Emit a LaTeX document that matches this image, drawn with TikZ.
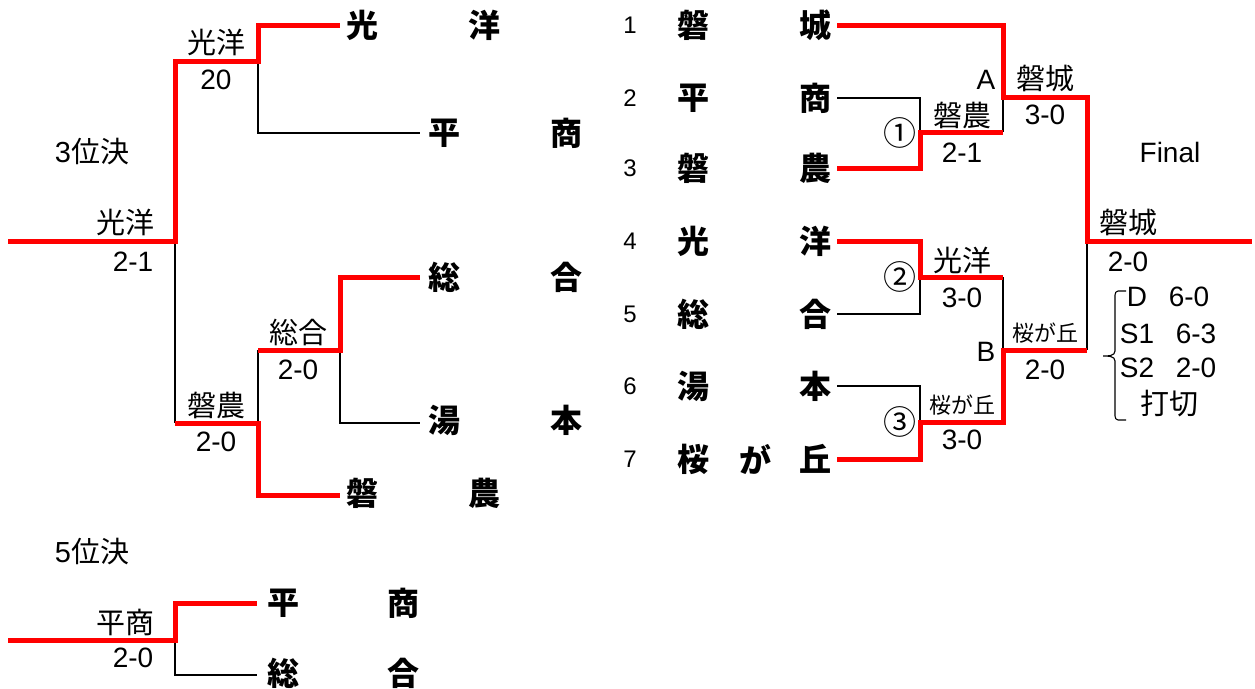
\documentclass[tikz,border=0pt]{standalone}
\usepackage{fontspec}
\setmainfont{Noto Sans CJK JP}
\newfontfamily\lat{Liberation Sans}
\begin{document}
\begin{tikzpicture}[x=1pt,y=-1pt,
  win/.style={draw=red,line width=5pt},
  lose/.style={draw=black,line width=1.1pt},
  nm/.style={inner sep=0pt,font=\fontsize{32}{32}\selectfont\bfseries},
  num/.style={inner sep=0pt,font=\fontsize{24}{24}\selectfont\lat},
  lbl/.style={inner sep=0pt,font=\fontsize{29}{29}\selectfont},
  sc/.style={inner sep=0pt,font=\fontsize{28}{28}\selectfont\lat},
  sml/.style={inner sep=0pt,font=\fontsize{22}{22}\selectfont},
  circ/.style={inner sep=0pt,font=\fontsize{33}{33}\selectfont}]
\useasboundingbox (0,0) rectangle (1255,688);

% ---------- main bracket: teams ----------
\foreach \n/\a/\b/\y in {1/磐/城/25,2/平/商/98,3/磐/農/168,4/光/洋/241,5/総/合/314,6/湯/本/386,7/桜/丘/459}{
  \node[num] (n\n) at (630,\y) {\n};
  \node[nm] (a\n) at (693,\y) {\a};
  \node[nm] (b\n) at (815,\y) {\b};
  \coordinate (t\n) at (837,\y);
}
\node[nm] (ga) at (755,459) {が};

% joints
\coordinate (j1a) at (1003,25);
\coordinate (jA) at (1003,97);
\coordinate (jA2) at (1087,97);
\coordinate (jF) at (1087,241);
\coordinate (fin) at (1252,241);
\coordinate (j2) at (920,98);
\coordinate (j3) at (920,168);
\coordinate (m1) at (920,132);
\coordinate (m1e) at (1003,132);
\coordinate (j4) at (920,241);
\coordinate (j5) at (920,314);
\coordinate (m2) at (920,277);
\coordinate (m2e) at (1003,277);
\coordinate (j6) at (920,386);
\coordinate (j7) at (920,459);
\coordinate (m3) at (920,422);
\coordinate (m3e) at (1003,422);
\coordinate (jB) at (1003,350);
\coordinate (jB2) at (1087,350);

\draw[lose] (t2) -- (j2) -- (m1);
\draw[lose] (m1e) -- (jA);
\draw[lose] (t5) -- (j5) -- (m2);
\draw[lose] (m2e) -- (jB);
\draw[lose] (t6) -- (j6) -- (m3);
\draw[lose] (jB2) -- (jF);

\draw[win] (t1) -- (j1a) -- (jA) -- (jA2) -- (jF) -- (fin);
\draw[win] (t3) -- (j3) -- (m1) -- (m1e);
\draw[win] (t4) -- (j4) -- (m2) -- (m2e);
\draw[win] (t7) -- (j7) -- (m3) -- (m3e) -- (jB) -- (jB2);

% labels
\node[circ] (c1) at (900,133) {①};
\node[lbl] (w1) at (962,115) {磐農};
\node[sc] (s1) at (962,153) {2-1};
\node[sc] (la) at (986,80) {A};
\node[lbl] (wa) at (1045,78) {磐城};
\node[sc] (sa) at (1045,115) {3-0};
\node[sc] (final) at (1170,152) {Final};
\node[lbl] (wf) at (1128,222) {磐城};
\node[sc] (sf) at (1128,262) {2-0};
\node[circ] (c2) at (900,277) {②};
\node[lbl] (w2) at (962,260) {光洋};
\node[sc] (s2) at (962,298) {3-0};
\node[circ] (c3) at (900,422) {③};
\node[sml] (w3) at (962,405) {桜が丘};
\node[sc] (s3) at (962,440) {3-0};
\node[sc] (lb) at (986,352) {B};
\node[sml] (wb) at (1045,333) {桜が丘};
\node[sc] (sb) at (1045,370) {2-0};

% brace and detail
\coordinate (br1) at (1126,291);
\coordinate (br2) at (1126,420);
\coordinate (brc) at (1103,356);
\draw[lose] (br1) -- (1118,291) to[out=180,in=90] (1115,295) -- (1115,351)
  to[out=-90,in=0] (brc) to[out=0,in=90] (1115,361) -- (1115,416)
  to[out=-90,in=180] (1118,420) -- (br2);
\node[sc] (dd) at (1137,297) {D};
\node[sc] (ds) at (1189,297) {6-0};
\node[sc] (s1l) at (1137,334) {S1};
\node[sc] (s1s) at (1196,334) {6-3};
\node[sc] (s2l) at (1137,368) {S2};
\node[sc] (s2s) at (1196,368) {2-0};
\node[lbl] (uchi) at (1169,404) {打切};

% ---------- 3rd place ----------
\node[lbl] (third) at (92,152) {{\lat 3}位決};
\node[nm] (l1a) at (362,25) {光};
\node[nm] (l1b) at (484,25) {洋};
\node[nm] (l2a) at (444,133) {平};
\node[nm] (l2b) at (566,133) {商};
\node[nm] (l3a) at (444,277) {総};
\node[nm] (l3b) at (566,277) {合};
\node[nm] (l4a) at (444,420) {湯};
\node[nm] (l4b) at (566,420) {本};
\node[nm] (l5a) at (362,493) {磐};
\node[nm] (l5b) at (484,493) {農};

\coordinate (L0) at (8,241);
\coordinate (L1) at (175,241);
\coordinate (L2) at (175,61);
\coordinate (L3) at (258,61);
\coordinate (L4) at (258,25);
\coordinate (L5) at (340,25);
\coordinate (L6) at (258,133);
\coordinate (L7) at (420,133);
\coordinate (L8) at (175,423);
\coordinate (L9) at (258,423);
\coordinate (L10) at (258,495);
\coordinate (L11) at (340,495);
\coordinate (L12) at (258,350);
\coordinate (L13) at (340,350);
\coordinate (L14) at (340,277);
\coordinate (L15) at (420,277);
\coordinate (L16) at (340,423);
\coordinate (L17) at (420,423);

\draw[lose] (L3) -- (L6) -- (L7);
\draw[lose] (L1) -- (L8);
\draw[lose] (L9) -- (L12);
\draw[lose] (L13) -- (L16) -- (L17);
\draw[win] (L0) -- (L1) -- (L2) -- (L3) -- (L4) -- (L5);
\draw[win] (L8) -- (L9) -- (L10) -- (L11);
\draw[win] (L12) -- (L13) -- (L14) -- (L15);

\node[lbl] (k1) at (216,42) {光洋};
\node[sc] (k1s) at (216,80) {20};
\node[lbl] (k0) at (125,222) {光洋};
\node[sc] (k0s) at (133,262) {2-1};
\node[lbl] (k2) at (298,332) {総合};
\node[sc] (k2s) at (298,370) {2-0};
\node[lbl] (k3) at (216,405) {磐農};
\node[sc] (k3s) at (216,442) {2-0};

% ---------- 5th place ----------
\node[lbl] (fifth) at (92,552) {{\lat 5}位決};
\node[nm] (f1a) at (283,603) {平};
\node[nm] (f1b) at (403,603) {商};
\node[nm] (f2a) at (283,673) {総};
\node[nm] (f2b) at (403,673) {合};
\coordinate (F0) at (8,640);
\coordinate (F1) at (175,640);
\coordinate (F2) at (175,603);
\coordinate (F3) at (257,603);
\coordinate (F4) at (175,675);
\coordinate (F5) at (257,675);
\draw[lose] (F1) -- (F4) -- (F5);
\draw[win] (F0) -- (F1) -- (F2) -- (F3);
\node[lbl] (fw) at (125,622) {平商};
\node[sc] (fs) at (133,658) {2-0};
\end{tikzpicture}
\end{document}
